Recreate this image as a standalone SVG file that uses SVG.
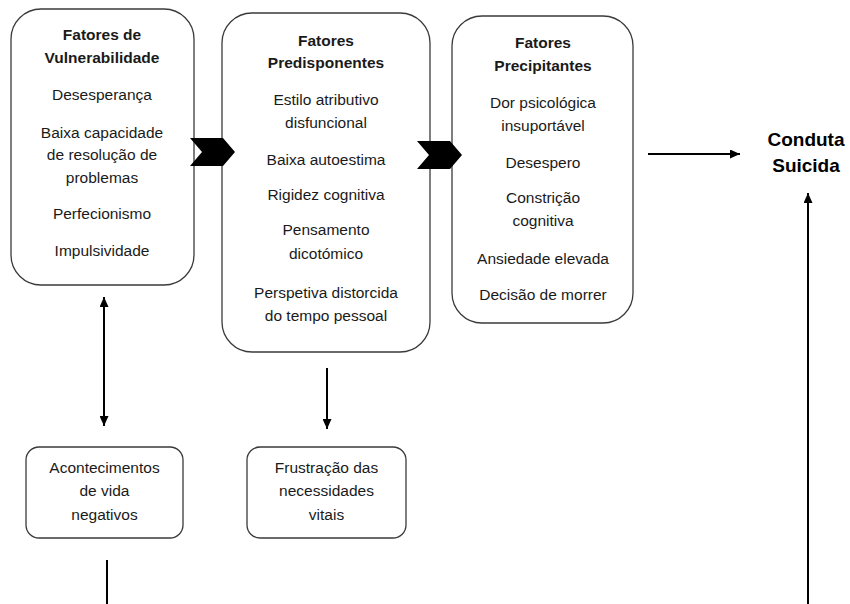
<svg xmlns="http://www.w3.org/2000/svg" width="850" height="604" viewBox="0 0 850 604">
<style>
.box{fill:#fff;stroke:#3a3a3a;stroke-width:1.3}
.t{font-family:"Liberation Sans",Arial,sans-serif;font-size:15.5px;fill:#1a1a1a;text-anchor:middle}
.b{font-weight:bold}
.big{font-family:"Liberation Sans",Arial,sans-serif;font-size:19px;font-weight:bold;fill:#000;text-anchor:middle}
.ln{stroke:#000;stroke-width:2;fill:none}
.chev{fill:#000}
</style>
<defs>
<marker id="ah" markerUnits="userSpaceOnUse" markerWidth="10" markerHeight="9" refX="10" refY="4.5" orient="auto-start-reverse" viewBox="0 0 10 9">
<path d="M0,0 L10,4.5 L0,9 z" fill="#000"/>
</marker>
</defs>
<rect width="850" height="604" fill="#fff"/>

<g id="vulnerabilidade">
<rect class="box" x="11" y="9" width="183" height="276" rx="30"/>
<text class="t b" x="102" y="40">Fatores de</text>
<text class="t b" x="102" y="63">Vulnerabilidade</text>
<text class="t" x="102" y="100">Desesperança</text>
<text class="t" x="102" y="138">Baixa capacidade</text>
<text class="t" x="102" y="160">de resolução de</text>
<text class="t" x="102" y="183">problemas</text>
<text class="t" x="102" y="219">Perfecionismo</text>
<text class="t" x="102" y="256">Impulsividade</text>
</g>

<g id="predisponentes">
<rect class="box" x="222" y="13" width="208" height="339" rx="30"/>
<text class="t b" x="326" y="46">Fatores</text>
<text class="t b" x="326" y="68">Predisponentes</text>
<text class="t" x="326" y="105">Estilo atributivo</text>
<text class="t" x="326" y="128">disfuncional</text>
<text class="t" x="326" y="165">Baixa autoestima</text>
<text class="t" x="326" y="200">Rigidez cognitiva</text>
<text class="t" x="326" y="235">Pensamento</text>
<text class="t" x="326" y="259">dicotómico</text>
<text class="t" x="326" y="298">Perspetiva distorcida</text>
<text class="t" x="326" y="321">do tempo pessoal</text>
</g>

<g id="precipitantes">
<rect class="box" x="452" y="16" width="181" height="307" rx="30"/>
<text class="t b" x="543" y="48">Fatores</text>
<text class="t b" x="543" y="71">Precipitantes</text>
<text class="t" x="543" y="108">Dor psicológica</text>
<text class="t" x="543" y="131">insuportável</text>
<text class="t" x="543" y="168">Desespero</text>
<text class="t" x="543" y="203">Constrição</text>
<text class="t" x="543" y="226">cognitiva</text>
<text class="t" x="543" y="264">Ansiedade elevada</text>
<text class="t" x="543" y="300">Decisão de morrer</text>
</g>

<g id="conduta">
<text class="big" x="806" y="146">Conduta</text>
<text class="big" x="806" y="172">Suicida</text>
</g>

<g id="acontecimentos">
<rect class="box" x="26" y="447" width="157" height="91" rx="13"/>
<text class="t" x="104.5" y="473">Acontecimentos</text>
<text class="t" x="104.5" y="496">de vida</text>
<text class="t" x="104.5" y="520">negativos</text>
</g>

<g id="frustracao">
<rect class="box" x="247" y="447" width="159" height="91" rx="13"/>
<text class="t" x="326.5" y="473">Frustração das</text>
<text class="t" x="326.5" y="496">necessidades</text>
<text class="t" x="326.5" y="520">vitais</text>
</g>

<g id="connectors">
<polygon class="chev" points="190,138 223,138 235,152 223,166 190,166 202,152"/>
<polygon class="chev" points="417,141 450,141 462,155 450,169 417,169 429,155"/>
<line class="ln" x1="648" y1="154" x2="740" y2="154" marker-end="url(#ah)"/>
<line class="ln" x1="808" y1="604" x2="808" y2="193" marker-end="url(#ah)"/>
<line class="ln" x1="104" y1="297" x2="104" y2="426" marker-start="url(#ah)" marker-end="url(#ah)"/>
<line class="ln" x1="327" y1="368" x2="327" y2="429" marker-end="url(#ah)"/>
<line class="ln" x1="107" y1="560" x2="107" y2="604"/>
</g>
</svg>
